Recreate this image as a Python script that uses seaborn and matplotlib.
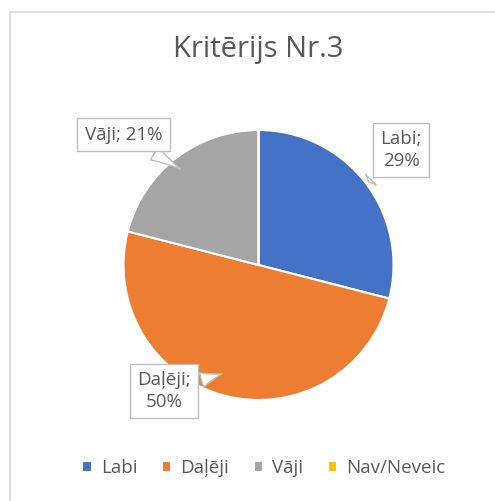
import matplotlib.pyplot as plt
import seaborn as sns
from matplotlib.patches import Rectangle

# dati
categories = ['Labi', 'Daļēji', 'Vāji', 'Nav/Neveic']
values = [29, 50, 21, 0]
colors = ['#4472C4', '#ED7D31', '#A5A5A5', '#FFC000']
title = 'Kritērijs Nr.3'

sns.set_theme(style='white')
plt.rcParams['font.family'] = ['Open Sans', 'DejaVu Sans']
txt_color = '#595959'

fig = plt.figure(figsize=(4.95, 5.01), dpi=100)
W, H = 495, 501
cx, cy, r = 258.5, 265, 135
ax = fig.add_axes([(cx - r) / W, (H - cy - r) / H, 2 * r / W, 2 * r / H])

wedges, _ = ax.pie(values, colors=colors, startangle=90, counterclock=False,
                   wedgeprops=dict(edgecolor='white', linewidth=1.5))
ax.set_xlim(-1, 1)
ax.set_ylim(-1, 1)
ax.set_aspect('equal')
ax.axis('off')

# ramis ap diagrammu
fig.patches.append(Rectangle((9.5 / W, -0.1), 1.2, (H - 11.5) / H + 0.1,
                             transform=fig.transFigure, fill=False,
                             edgecolor='#D9D9D9', linewidth=1.2))

fig.text(cx / W, 1 - 50 / H, title, ha='center', va='center',
         fontsize=21, color=txt_color)

# datu etiķetes ar norādēm
labels = [f'{c};\n{v}%' for c, v in zip(categories, values)]
labels[2] = f'{categories[2]}; {values[2]}%'
text_pos = [(1.056, 0.852), (-0.70, -0.935), (-1.0, 0.963)]
tip_pos = [(0.80, 0.60), (-0.25, -0.80), (-0.56, 0.70)]
for lab, tp, xy in zip(labels[:3], text_pos, tip_pos):
    ax.annotate(lab, xy=xy, xytext=tp, ha='center', va='center',
                fontsize=13.5, color=txt_color, linespacing=1.25,
                bbox=dict(boxstyle='square,pad=0.4', fc='white',
                          ec='#BFBFBF', lw=1),
                arrowprops=dict(arrowstyle='wedge,tail_width=0.8,shrink_factor=0.4',
                                fc='white', ec='#BFBFBF', lw=1))

fig.legend(wedges, categories, loc='center', bbox_to_anchor=(264 / W, 1 - 468 / H),
           ncol=4, frameon=False, fontsize=13.5, labelcolor=txt_color,
           handlelength=0.5, handleheight=0.5, handletextpad=0.5,
           columnspacing=1.3)

fig.savefig('out.png', dpi=100)
